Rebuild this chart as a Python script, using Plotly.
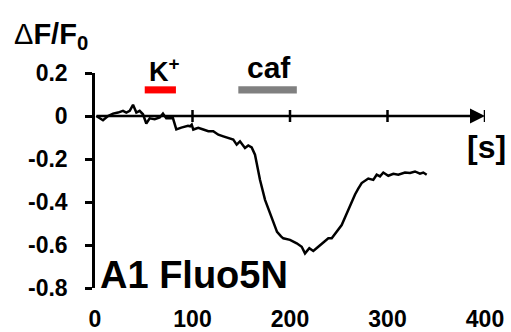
import plotly.graph_objects as go

# ---- data ----
time_s = [1.3, 4.5, 8.2, 13.3, 18.5, 23.6, 28.7, 32.1, 35.6, 39.0, 42.4, 45.8, 49.2, 52.6, 56.1, 61.2,
          66.4, 69.7, 73.1, 80.0, 83.4, 88.5, 95.4, 97.5, 99.2, 100.8, 105.9, 111.1, 116.2, 121.3,
          126.5, 131.6, 136.7, 141.8, 145.3, 148.7, 153.8, 157.2, 160.7, 164.1, 165.8, 169.2,
          174.4, 179.5, 183.6, 186.7, 190.8, 193.1, 200.0, 206.9, 212.0, 215.4, 219.8, 223.9,
          229.0, 235.9, 239.3, 242.8, 247.9, 253.0, 257.4, 261.5, 266.7, 270.0, 273.5, 280.3, 285.4,
          288.9, 292.3, 295.7, 300.8, 306.0, 311.1, 317.9, 323.1, 328.2, 333.3, 336.7, 340.2]
dff0 = [0.0, -0.008, -0.020, 0.0, 0.011, 0.016, 0.024, 0.016, 0.024, 0.052, 0.016, 0.024, 0.008,
        -0.035, -0.011, -0.015, -0.007, 0.011, -0.011, -0.011, -0.062, -0.054, -0.046, -0.048,
        -0.040, -0.063, -0.055, -0.063, -0.071, -0.071, -0.087, -0.095, -0.102, -0.110, -0.133,
        -0.118, -0.149, -0.137, -0.146, -0.180, -0.219, -0.297, -0.390, -0.452, -0.507, -0.539,
        -0.560, -0.569, -0.576, -0.592, -0.608, -0.639, -0.615, -0.628, -0.608, -0.584, -0.569,
        -0.569, -0.538, -0.507, -0.462, -0.418, -0.365, -0.338, -0.312, -0.291, -0.297, -0.273,
        -0.281, -0.263, -0.278, -0.269, -0.273, -0.263, -0.265, -0.258, -0.268, -0.263, -0.273]

x_ticks = [0, 100, 200, 300, 400]
y_ticks = [0.2, 0, -0.2, -0.4, -0.6, -0.8]
y_tick_text = ["0.2", "0", "-0.2", "-0.4", "-0.6", "-0.8"]

stim_labels = ["K<sup>+</sup>", "caf"]
stim_start = [51, 147]
stim_end = [83, 207]
stim_colors = ["#ff0000", "#808080"]

FONT = "Liberation Sans, Arial, sans-serif"

fig = go.Figure()
fig.add_trace(go.Scatter(x=time_s, y=dff0, mode="lines",
                         line=dict(color="black", width=2.5), showlegend=False,
                         hoverinfo="skip"))

# stimulus bars
for s, e, c in zip(stim_start, stim_end, stim_colors):
    fig.add_shape(type="rect", xref="x", yref="y", x0=s, x1=e, y0=0.105, y1=0.138,
                  fillcolor=c, line=dict(width=0), layer="above")

# x-axis line at y=0 with arrow
fig.add_annotation(x=x_ticks[-1], y=0, ax=x_ticks[0], ay=0, xref="x", yref="y",
                   axref="x", ayref="y", text="", showarrow=True, arrowhead=2,
                   arrowsize=1.2, arrowwidth=2.5, arrowcolor="black", standoff=0)
# crossing ticks on the x-axis line
for t in x_ticks[1:]:
    fig.add_shape(type="line", xref="x", yref="y", x0=t, x1=t, ysizemode="pixel",
                  yanchor=0, y0=-6, y1=6, line=dict(color="black", width=2.5))

fig.update_layout(
    width=511, height=332,
    margin=dict(l=95, r=26, t=73, b=44),
    paper_bgcolor="white", plot_bgcolor="white",
    font=dict(family=FONT, color="black", size=22),
    xaxis=dict(range=[0, 400], tickvals=x_ticks, ticktext=[str(v) for v in x_ticks],
               showgrid=False, zeroline=False, showline=False, automargin=False,
               ticks="outside", ticklen=10, tickcolor="rgba(0,0,0,0)",
               tickfont=dict(family=FONT, size=23, color="black", weight="bold")),
    yaxis=dict(range=[-0.8, 0.2], tickvals=y_ticks, ticktext=y_tick_text,
               showgrid=False, zeroline=False, showline=True, linecolor="black",
               linewidth=2.5, ticks="outside", ticklen=7, tickwidth=2.5, automargin=False,
               tickcolor="black", ticklabelstandoff=13,
               tickfont=dict(family=FONT, size=23, color="black", weight="bold")),
)

W, H = 390.0, 215.0
def px(x):
    return (x - 95) / W
def py(y):
    return (288 - y) / H

annots = [
    ("ΔF/F<sub>0</sub>", 12, 36, 29, "left"),
    (stim_labels[0], 164, 70, 27, "center"),
    (stim_labels[1], 269, 67, 30, "center"),
    ("[s]", 486, 147, 32, "center"),
    ("A1 Fluo5N", 98, 275, 38, "left"),
]
for txt, x, y, sz, anc in annots:
    if txt.startswith("Δ"):
        text = "Δ<b>F/F<sub>0</sub></b>"
        f = dict(family=FONT, size=sz, color="black")
    else:
        text = txt
        f = dict(family=FONT, size=sz, color="black", weight="bold")
    fig.add_annotation(x=px(x), y=py(y), xref="paper", yref="paper", text=text,
                       showarrow=False, xanchor=anc, yanchor="middle", font=f)

fig.write_html("out.html")
